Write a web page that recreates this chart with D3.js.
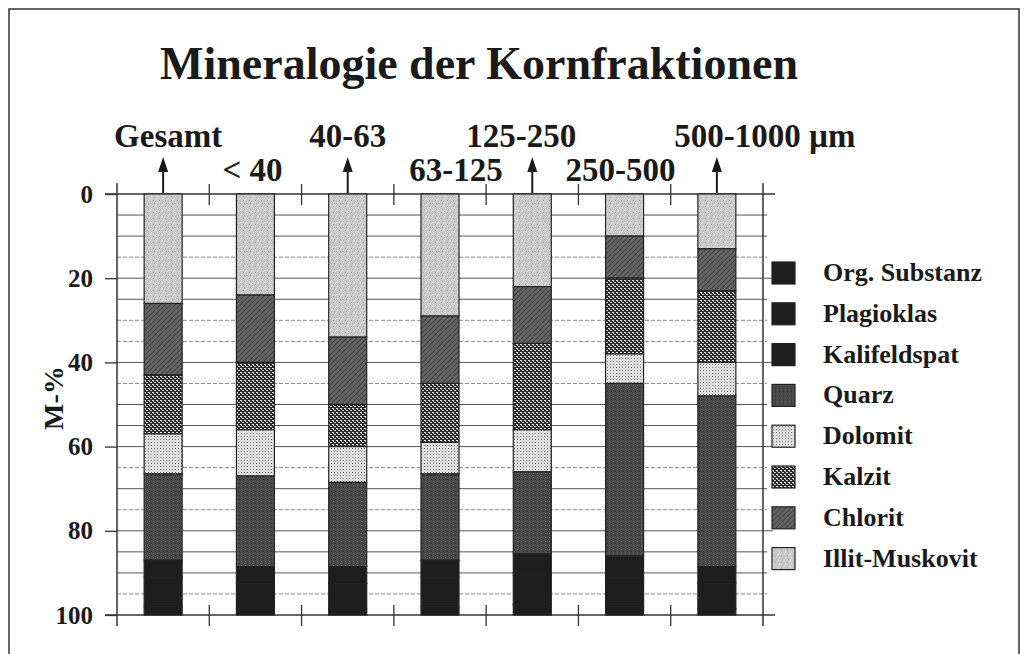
<!DOCTYPE html>
<html>
<head>
<meta charset="utf-8">
<script src="https://cdnjs.cloudflare.com/ajax/libs/d3/7.8.5/d3.min.js"></script>
<style>
  body { margin: 0; background: #fff; }
  text { font-family: "Liberation Serif", "Times New Roman", serif; font-weight: bold; fill: #1a1a1a; }
</style>
</head>
<body>
<script>
var width = 1025;
var height = 654;

// grain size fractions
var fractions = ["Gesamt", "< 40", "40-63", "63-125", "125-250", "250-500", "500-1000 µm"];

// mass-% per mineral, stacked from 0 (top) downwards
var illit        = [26, 24, 34, 29, 22, 10, 13];
var chlorit      = [17, 16, 16, 16, 13.5, 10, 10];
var kalzit       = [14, 16, 10, 14, 20.5, 18, 17];
var dolomit      = [9.5, 11, 8.5, 7.5, 10, 7, 8];
var quarz        = [20.5, 21.5, 20, 20.5, 19.5, 41, 40.5];
var kalifeldspat = [4, 4, 4, 4, 5, 5, 4];
var plagioklas   = [7, 6, 6, 7, 7, 7, 6];
var orgSubstanz  = [2, 1.5, 1.5, 2, 2.5, 2, 1.5];

var yTicks = [0, 20, 40, 60, 80, 100];
var legendNames = ["Org. Substanz", "Plagioklas", "Kalifeldspat", "Quarz", "Dolomit", "Kalzit", "Chlorit", "Illit-Muskovit"];

var keys = ["illit", "chlorit", "kalzit", "dolomit", "quarz", "kalifeldspat", "plagioklas", "org"];
var table = fractions.map(function(f, i) {
  return {
    fraction: f,
    illit: illit[i], chlorit: chlorit[i], kalzit: kalzit[i], dolomit: dolomit[i],
    quarz: quarz[i], kalifeldspat: kalifeldspat[i], plagioklas: plagioklas[i], org: orgSubstanz[i]
  };
});
var legendKeys = ["org", "plagioklas", "kalifeldspat", "quarz", "dolomit", "kalzit", "chlorit", "illit"];

var plot = { left: 117, right: 763, top: 194, bottom: 615 };

var svg = d3.select('body').append('svg')
  .attr('width', width)
  .attr('height', height);

// fill patterns imitating the printed rasters
var defs = svg.append('defs');
function pattern(id, size, bg) {
  var p = defs.append('pattern').attr('id', id)
    .attr('patternUnits', 'userSpaceOnUse')
    .attr('width', size).attr('height', size);
  p.append('rect').attr('width', size).attr('height', size).attr('fill', bg);
  return p;
}
var pIllit = pattern('p-illit', 6, '#c9c9c9');
[[0, 0, '#e4e4e4'], [3, 2, '#a5a5a5'], [1, 4, '#ededed'], [4, 5, '#b0b0b0'], [5, 1, '#dcdcdc']].forEach(function(d) {
  pIllit.append('rect').attr('x', d[0]).attr('y', d[1]).attr('width', 1).attr('height', 1).attr('fill', d[2]);
});
var pChlorit = pattern('p-chlorit', 5, '#666');
pChlorit.append('path').attr('d', 'M0,5 L5,0 M-1,1 L1,-1 M4,6 L6,4').attr('stroke', '#444').attr('stroke-width', 1.2);
var pKalzit = pattern('p-kalzit', 4, '#2e2e2e');
pKalzit.append('rect').attr('x', 0).attr('y', 0).attr('width', 2).attr('height', 1).attr('fill', '#e6e6e6');
pKalzit.append('rect').attr('x', 2).attr('y', 2).attr('width', 2).attr('height', 1).attr('fill', '#d0d0d0');
pKalzit.append('rect').attr('x', 1).attr('y', 1).attr('width', 1).attr('height', 1).attr('fill', '#9a9a9a');
var pDolomit = pattern('p-dolomit', 3, '#dedede');
pDolomit.append('rect').attr('x', 1).attr('y', 1).attr('width', 1).attr('height', 1).attr('fill', '#808080');
var pQuarz = pattern('p-quarz', 4, '#484848');
pQuarz.append('rect').attr('x', 1).attr('y', 1).attr('width', 1).attr('height', 1).attr('fill', '#6a6a6a');
pQuarz.append('rect').attr('x', 3).attr('y', 3).attr('width', 1).attr('height', 1).attr('fill', '#303030');

var fills = {
  illit: 'url(#p-illit)', chlorit: 'url(#p-chlorit)', kalzit: 'url(#p-kalzit)',
  dolomit: 'url(#p-dolomit)', quarz: 'url(#p-quarz)',
  kalifeldspat: '#1e1e1e', plagioklas: '#1e1e1e', org: '#1e1e1e'
};

// outer frame
svg.append('rect')
  .attr('x', 9).attr('y', 9).attr('width', 1010).attr('height', 660)
  .attr('fill', 'none').attr('stroke', '#333').attr('stroke-width', 1.5);

// title
svg.append('text')
  .attr('x', 479).attr('y', 79)
  .attr('text-anchor', 'middle')
  .style('font-size', '46px')
  .text('Mineralogie der Kornfraktionen');

// scales
var xScale = d3.scaleBand().domain(fractions).range([plot.left, plot.right]).padding(0);
var yScale = d3.scaleLinear().domain([0, 100]).range([plot.top, plot.bottom]);
var barWidth = 38;

// horizontal grid every 5 %
var dashed = [15, 30, 35, 45, 65, 75, 95];
var grid = svg.append('g').attr('class', 'grid');
d3.range(5, 100, 5).forEach(function(v) {
  var major = v % 20 === 0;
  grid.append('line')
    .attr('x1', plot.left).attr('x2', plot.right + (major ? 10 : 4))
    .attr('y1', yScale(v)).attr('y2', yScale(v))
    .attr('stroke', dashed.indexOf(v) >= 0 ? '#888' : '#555')
    .attr('stroke-width', 1)
    .attr('stroke-dasharray', dashed.indexOf(v) >= 0 ? '4,2' : null);
});

// y axis (left)
var yAxis = d3.axisLeft(yScale).tickValues(yTicks).tickSize(12).tickPadding(12);
var yG = svg.append('g')
  .attr('transform', 'translate(' + plot.left + ',0)')
  .call(yAxis);
yG.select('.domain').remove();
yG.selectAll('.tick line').attr('stroke', '#333').attr('stroke-width', 1.3);
yG.selectAll('.tick text').style('font-size', '25px').attr('fill', '#1a1a1a');

// top and bottom lines
[0, 100].forEach(function(v) {
  svg.append('line')
    .attr('x1', plot.left - 12).attr('x2', plot.right + 12)
    .attr('y1', yScale(v)).attr('y2', yScale(v))
    .attr('stroke', '#333').attr('stroke-width', 1.5);
});

// vertical axis lines and band ticks
var bandEdges = fractions.map(function(f) { return xScale(f); }).concat([plot.right]);
bandEdges.forEach(function(x, i) {
  if (i === 0 || i === bandEdges.length - 1) {
    svg.append('line')
      .attr('x1', x).attr('x2', x)
      .attr('y1', plot.top - 11).attr('y2', plot.bottom + 11)
      .attr('stroke', '#333').attr('stroke-width', 1.5);
  } else {
    [plot.top, plot.bottom].forEach(function(y) {
      svg.append('line')
        .attr('x1', x).attr('x2', x)
        .attr('y1', y - 10).attr('y2', y + 11)
        .attr('stroke', '#333').attr('stroke-width', 1.3);
    });
  }
});

// stacked bars
var series = d3.stack().keys(keys)(table);
svg.append('g').selectAll('g')
  .data(series)
  .enter().append('g')
  .attr('fill', function(d) { return fills[d.key]; })
  .selectAll('rect')
  .data(function(d) { return d; })
  .enter().append('rect')
  .attr('x', function(d) { return xScale(d.data.fraction) + (xScale.bandwidth() - barWidth) / 2; })
  .attr('y', function(d) { return yScale(d[0]); })
  .attr('width', barWidth)
  .attr('height', function(d) { return yScale(d[1]) - yScale(d[0]); })
  .attr('stroke', '#222')
  .attr('stroke-width', 1.2);

// fraction labels (alternating high / low) and arrows
var labelDx = [5, -3, 0, 16, -11, -4, 48];
fractions.forEach(function(f, i) {
  var cx = xScale(f) + xScale.bandwidth() / 2;
  var high = i % 2 === 0;
  svg.append('text')
    .attr('x', cx + labelDx[i])
    .attr('y', high ? 147 : 181)
    .attr('text-anchor', 'middle')
    .style('font-size', '33px')
    .text(f);
  if (high) {
    svg.append('line')
      .attr('x1', cx).attr('x2', cx)
      .attr('y1', plot.top - 1).attr('y2', 168)
      .attr('stroke', '#1a1a1a').attr('stroke-width', 2);
    svg.append('path')
      .attr('d', 'M' + cx + ',157 L' + (cx - 5) + ',172 L' + (cx + 5) + ',172 Z')
      .attr('fill', '#1a1a1a');
  }
});

// y axis title
svg.append('text')
  .attr('transform', 'translate(63,398) rotate(-90)')
  .attr('text-anchor', 'middle')
  .style('font-size', '28px')
  .text('M-%');

// legend
var legend = svg.append('g').attr('transform', 'translate(772,262)');
legendKeys.forEach(function(k, i) {
  var row = legend.append('g').attr('transform', 'translate(0,' + (i * 40.8) + ')');
  row.append('rect')
    .attr('width', 23).attr('height', 22)
    .attr('fill', fills[k]).attr('stroke', '#222').attr('stroke-width', 1.2);
  row.append('text')
    .attr('x', 51).attr('y', 19)
    .style('font-size', '26px')
    .text(legendNames[i]);
});
</script>
</body>
</html>
